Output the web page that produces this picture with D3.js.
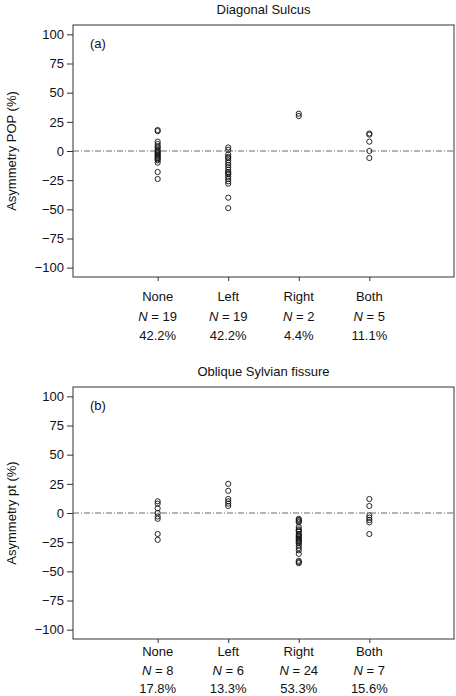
<!DOCTYPE html>
<html><head><meta charset="utf-8">
<script src="https://cdn.jsdelivr.net/npm/d3@7"></script>
<style>body{margin:0;background:#fff}svg{display:block}text{font-family:"Liberation Sans",Arial,sans-serif;fill:#111}</style>
</head><body>
<svg id="c" width="456" height="696"></svg>
<script>
const categories = ["None","Left","Right","Both"];
const yTicks = [100,75,50,25,0,-25,-50,-75,-100];
const yTickLabels = ["100","75","50","25","0","\u221225","\u221250","\u221275","\u2212100"];

const titleA = "Diagonal Sulcus";
const ylabelA = "Asymmetry POP (%)";
const countsA = [19,19,2,5];
const pctA = ["42.2%","42.2%","4.4%","11.1%"];
const noneA = [18,17,8,6,4,3,1,0,-1,-2,-3,-4,-5,-6,-7,-8,-10,-18,-24];
const leftA = [3,1,-3,-5,-6,-8,-10,-12,-14,-16,-18,-19,-20,-22,-24,-26,-28,-40,-49];
const rightA = [32,30];
const bothA = [15,14,8,0,-6];

const titleB = "Oblique Sylvian fissure";
const ylabelB = "Asymmetry pt (%)";
const countsB = [8,6,24,7];
const pctB = ["17.8%","13.3%","53.3%","15.6%"];
const noneB = [10,8,4,0,-3,-5,-18,-23];
const leftB = [25,19,12,10,8,6];
const rightB = [-5,-6,-7,-8,-12,-14,-15,-16,-18,-19,-20,-21,-22,-23,-24,-25,-26,-28,-30,-32,-35,-41,-42,-43];
const bothB = [12,6,-2,-4,-6,-8,-18];

const svg = d3.select("#c");

function panel(top, title, ylabel, tag, groups, counts, pcts, offs){
  const L=73, R=454, T=top, B=top+252;
  const x = d3.scaleLinear().domain([-0.2,5.2]).range([L,R]);
  const y = d3.scaleLinear().domain([-108,108]).range([B,T]);
  const g = svg.append("g");
  g.append("text").attr("x",(L+R)/2).attr("y",T-11).attr("text-anchor","middle").attr("font-size",13).text(title);
  const ya = g.append("g").attr("transform",`translate(${L},0)`)
    .call(d3.axisLeft(y).tickValues(yTicks).tickSize(6).tickPadding(3).tickFormat((d,i)=>yTickLabels[i]));
  ya.select(".domain").remove();
  ya.selectAll("line").attr("stroke","#333");
  ya.selectAll("text").attr("font-size",13).attr("font-family","Liberation Sans, Arial, sans-serif").attr("fill","#111");
  const xa = g.append("g").attr("transform",`translate(0,${B})`)
    .call(d3.axisBottom(x).tickValues([1,2,3,4]).tickSize(4).tickFormat(""));
  xa.select(".domain").remove();
  xa.selectAll("line").attr("stroke","#333");
  g.append("rect").attr("x",L).attr("y",T).attr("width",R-L).attr("height",B-T)
    .attr("fill","none").attr("stroke","#333").attr("stroke-width",1);
  g.append("line").attr("x1",L).attr("x2",R).attr("y1",y(0)).attr("y2",y(0))
    .attr("stroke","#444").attr("stroke-width",0.8).attr("stroke-dasharray","6,2,1,2");
  g.append("text").attr("x",L+17).attr("y",y(100)+14).attr("font-size",13).text(tag);
  g.append("text").attr("transform",`translate(16,${(T+B)/2}) rotate(-90)`).attr("text-anchor","middle").attr("font-size",13).text(ylabel);
  groups.forEach((vals,i)=>{
    g.selectAll(null).data(vals).enter().append("circle")
      .attr("cx",x(i+1)).attr("cy",d=>y(d)).attr("r",2.6)
      .attr("fill","none").attr("stroke","#111").attr("stroke-width",0.9);
  });
  categories.forEach((c,i)=>{
    const cx=x(i+1);
    g.append("text").attr("x",cx).attr("y",B+offs[0]).attr("text-anchor","middle").attr("font-size",13).text(c);
    const t=g.append("text").attr("x",cx).attr("y",B+offs[1]).attr("text-anchor","middle").attr("font-size",13);
    t.append("tspan").attr("font-style","italic").text("N");
    t.append("tspan").text(" = "+counts[i]);
    g.append("text").attr("x",cx).attr("y",B+offs[2]).attr("text-anchor","middle").attr("font-size",13).text(pcts[i]);
  });
}
panel(25, titleA, ylabelA, "(a)", [noneA,leftA,rightA,bothA], countsA, pctA, [24,44,63]);
panel(387, titleB, ylabelB, "(b)", [noneB,leftB,rightB,bothB], countsB, pctB, [17,36,54]);
</script>
</body></html>
